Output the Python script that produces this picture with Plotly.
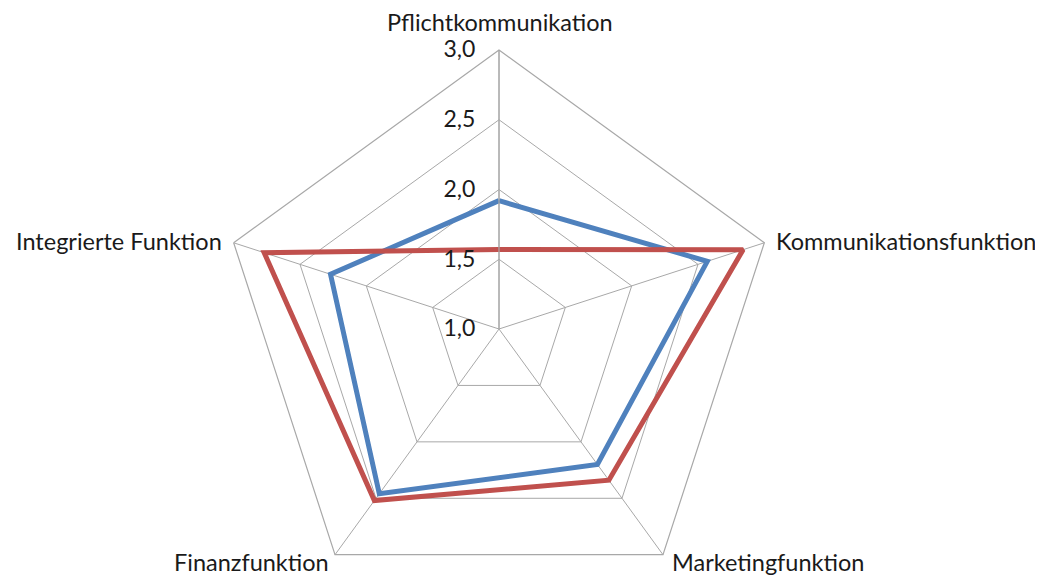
import plotly.graph_objects as go

categories = ["Pflichtkommunikation", "Kommunikationsfunktion", "Marketingfunktion",
              "Finanzfunktion", "Integrierte Funktion"]
series_blue = [1.92, 2.57, 2.20, 2.46, 2.27]
series_red = [1.57, 2.84, 2.34, 2.52, 2.77]
radial_ticks = [1.0, 1.5, 2.0, 2.5, 3.0]

# page body has an 8px margin; figure coordinates are screen minus 8
OFF = 8
W, H = 1035, 600
cx, cy, R = 499 - OFF, 329 - OFF, 279
T, B = cy - R, H - (cy + R)
PH = H - T - B

def paper(sx, sy):
    x = (sx - OFF) / W
    y = 1 - ((sy - OFF) - T) / PH
    return x, y

fig = go.Figure()
fig.add_trace(go.Scatterpolar(
    r=series_blue + series_blue[:1], theta=categories + categories[:1],
    mode="lines", line=dict(color="#4F81BD", width=5), name="Serie 1"))
fig.add_trace(go.Scatterpolar(
    r=series_red + series_red[:1], theta=categories + categories[:1],
    mode="lines", line=dict(color="#C0504D", width=5), name="Serie 2"))

# category labels placed next to the pentagon vertices
label_pos = [
    (500, 22, "center"),
    (775, 241, "left"),
    (671, 562, "left"),
    (330, 562, "right"),
    (223, 241, "right"),
]
for name, (sx, sy, anchor) in zip(categories, label_pos):
    x, y = paper(sx, sy)
    fig.add_annotation(text=name, x=x, y=y, xref="paper", yref="paper",
                       xanchor=anchor, yanchor="middle", showarrow=False,
                       borderpad=0,
                       font=dict(size=23.5, family="Lato", color="#1a1a1a"))

grid = "#A8A8A8"
fig.update_layout(
    width=W, height=H,
    margin=dict(l=0, r=0, t=T, b=B),
    paper_bgcolor="white",
    showlegend=False,
    separators=", ",
    font=dict(family="Lato", size=23, color="#1a1a1a"),
    polar=dict(
        domain=dict(x=[(cx - R) / W, (cx + R) / W], y=[0, 1]),
        bgcolor="white",
        gridshape="linear",
        angularaxis=dict(
            rotation=90, direction="clockwise",
            categoryorder="array", categoryarray=categories,
            showline=True, linecolor=grid, linewidth=1.2,
            gridcolor=grid, gridwidth=1.2,
            ticks="", showticklabels=False,
        ),
        radialaxis=dict(
            range=[1.0, 3.0], tickvals=radial_ticks, tickformat=".1f",
            angle=90, side="counterclockwise", tickangle=90,
            showline=True, linecolor=grid, linewidth=1.2,
            gridcolor=grid, gridwidth=1.2,
            ticks="outside", ticklen=15, tickcolor="rgba(0,0,0,0)",
            tickfont=dict(size=23, family="Lato", color="#1a1a1a"),
        ),
    ),
)

fig.write_html("out.html")
